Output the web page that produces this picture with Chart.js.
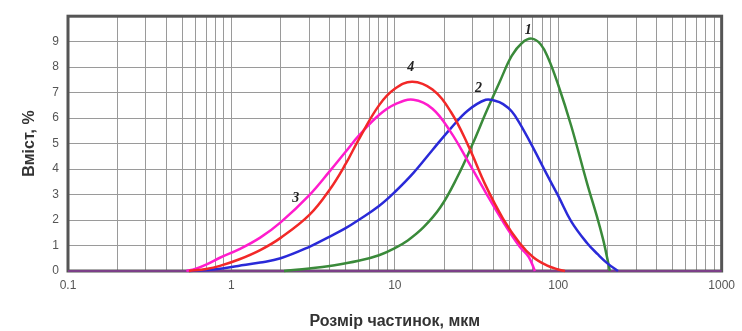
<!DOCTYPE html>
<html>
<head>
<meta charset="utf-8">
<script src="https://cdn.jsdelivr.net/npm/chart.js@4"></script>
<style>
  html, body { margin: 0; padding: 0; background: #fff; }
  #wrap { width: 742px; height: 331px; }
</style>
</head>
<body>
<div id="wrap"><canvas id="graph_psd"></canvas></div>
<script>
// particle size, µm and content, %  (curves 1..4)
var size1 = [2.1, 3,   4,   6,   8,    10,  12,  15,   19,  24,   30,  36,  44,   52,   60,   68.7, 78,  87,   100, 120, 150,  175, 188,  195, 207];
var pct1  = [0,   0.1, 0.2, 0.4, 0.62, 0.9, 1.2, 1.72, 2.5, 3.66, 5.0, 6.2, 7.45, 8.45, 8.95, 9.12, 8.9, 8.34, 7.3, 5.7, 3.45, 2.0, 1.25, 0.8, 0];

var size2 = [0.55, 0.8,  1.1, 1.5,  2,   3,    4,    5,    6,   8,    10,  13,   17,   22,  28,  36,   41,   46,   52,   58,  70,   85,  100,  120,  150, 175,  200, 232];
var pct2  = [0,    0.07, 0.2, 0.33, 0.5, 0.95, 1.35, 1.68, 2.0, 2.55, 3.1, 3.85, 4.75, 5.6, 6.3, 6.72, 6.68, 6.55, 6.26, 5.8, 4.85, 3.8, 2.95, 1.95, 1.1, 0.65, 0.3, 0];

var size3 = [0.53, 0.6,  0.7,  0.85, 1.12, 1.5,  2,    3,    4,    5,    6,   8,    10,   13,   17,   22,   28,   36,   46,   58,   66,   72];
var pct3  = [0,    0.08, 0.25, 0.52, 0.86, 1.31, 1.91, 2.98, 3.92, 4.68, 5.3, 6.12, 6.54, 6.72, 6.37, 5.45, 4.31, 3.08, 1.93, 0.96, 0.55, 0];

var size4 = [0.55, 0.7,  0.85, 1.12, 1.5,  2,   3,   4,   5,   6,    8,   10,   12.8, 17,   22,   28,   36,   46,   58,  70,   85,   100,  110];
var pct4  = [0,    0.08, 0.2,  0.46, 0.82, 1.3, 2.2, 3.2, 4.2, 5.15, 6.5, 7.15, 7.43, 7.12, 6.25, 4.95, 3.35, 2.05, 1.1, 0.55, 0.22, 0.06, 0];

var curveNames  = ['1', '2', '3', '4'];
var curveColors = ['#3a8a3a', '#2a2ad8', '#ff1ccc', '#f22828'];
var labelX = [65.6, 32.5, 2.48, 12.5];
var labelY = [9.44, 7.17, 2.86, 8.0];

var xMajor = [0.1, 1, 10, 100, 1000];
var yTicks = [0, 1, 2, 3, 4, 5, 6, 7, 8, 9];

function pts(xs, ys) {
    return xs.map(function (x, i) { return { x: x, y: ys[i] }; });
}

// all grid values 0.1,0.2..0.9,1,2..9,10,...,1000
var xGrid = [];
xMajor.forEach(function (d, k) {
    if (k == xMajor.length - 1) { xGrid.push(d); return; }
    for (var m = 1; m <= 9; m++) xGrid.push(+(d * m).toPrecision(6));
});

var sets = [[size1, pct1], [size2, pct2], [size3, pct3], [size4, pct4]];

// frame + curve numbers
var extras = {
    id: 'extras',
    beforeDatasetsDraw: function (chart) {
        var a = chart.chartArea, c = chart.ctx;
        c.save();
        c.strokeStyle = '#555';
        c.lineWidth = 3;
        c.strokeRect(a.left, a.top, a.right - a.left, a.bottom - a.top);
        // thin purple trace along the baseline
        c.strokeStyle = '#8a3a9a';
        c.lineWidth = 1.5;
        c.beginPath();
        c.moveTo(a.left, a.bottom);
        c.lineTo(a.right, a.bottom);
        c.stroke();
        c.restore();
    },
    afterDatasetsDraw: function (chart) {
        var c = chart.ctx, xs = chart.scales.x, ys = chart.scales.y;
        c.save();
        c.font = 'bold italic 14px "Liberation Serif"';
        c.fillStyle = '#222';
        c.textAlign = 'center';
        c.textBaseline = 'middle';
        curveNames.forEach(function (n, i) {
            c.fillText(n, xs.getPixelForValue(labelX[i]), ys.getPixelForValue(labelY[i]));
        });
        c.restore();
    }
};

var ctx = document.getElementById('graph_psd');

var chart_psd = new Chart(ctx, {
    type: 'line',
    data: {
        datasets: sets.map(function (s, i) {
            return {
                label: curveNames[i],
                data: pts(s[0], s[1]),
                borderColor: curveColors[i],
                borderWidth: 2.5,
                pointRadius: 0,
                tension: 0.4,
                fill: false,
                clip: 4
            };
        }).reverse()
    },
    options: {
        responsive: true,
        maintainAspectRatio: false,
        animation: false,
        plugins: {
            legend: { display: false },
            tooltip: { enabled: false }
        },
        layout: {
            padding: { left: 0, right: 17, top: 13, bottom: 0 }
        },
        scales: {
            x: {
                type: 'logarithmic',
                min: 0.1,
                max: 1000,
                afterBuildTicks: function (s) {
                    s.ticks = xGrid.map(function (v) { return { value: v }; });
                },
                afterFit: function (s) { s.height = 60; },
                grid: { color: '#9a9a9a', lineWidth: 1, drawTicks: false },
                border: { display: false },
                ticks: {
                    autoSkip: false,
                    maxRotation: 0,
                    padding: 7,
                    color: '#555',
                    font: { family: 'Liberation Sans', size: 12 },
                    callback: function (v) {
                        return xMajor.indexOf(v) >= 0 ? String(v) : '';
                    }
                },
                title: {
                    display: true,
                    text: 'Розмір частинок, мкм',
                    color: '#333',
                    font: { family: 'Liberation Sans', size: 16, weight: 'bold' },
                    padding: { top: 0, bottom: 0 }
                }
            },
            y: {
                min: 0,
                max: 10,
                afterBuildTicks: function (s) {
                    s.ticks = yTicks.concat([10]).map(function (v) { return { value: v }; });
                },
                afterFit: function (s) { s.width = 68; },
                grid: { color: '#9a9a9a', lineWidth: 1, drawTicks: false },
                border: { display: false },
                ticks: {
                    padding: 9,
                    color: '#555',
                    font: { family: 'Liberation Sans', size: 12 },
                    callback: function (v) { return v < 10 ? v : ''; }
                },
                title: {
                    display: true,
                    text: 'Вміст, %',
                    color: '#333',
                    font: { family: 'Liberation Sans', size: 16, weight: 'bold' },
                    padding: { top: 20, bottom: 0 }
                }
            }
        }
    },
    plugins: [extras]
});
</script>
</body>
</html>
